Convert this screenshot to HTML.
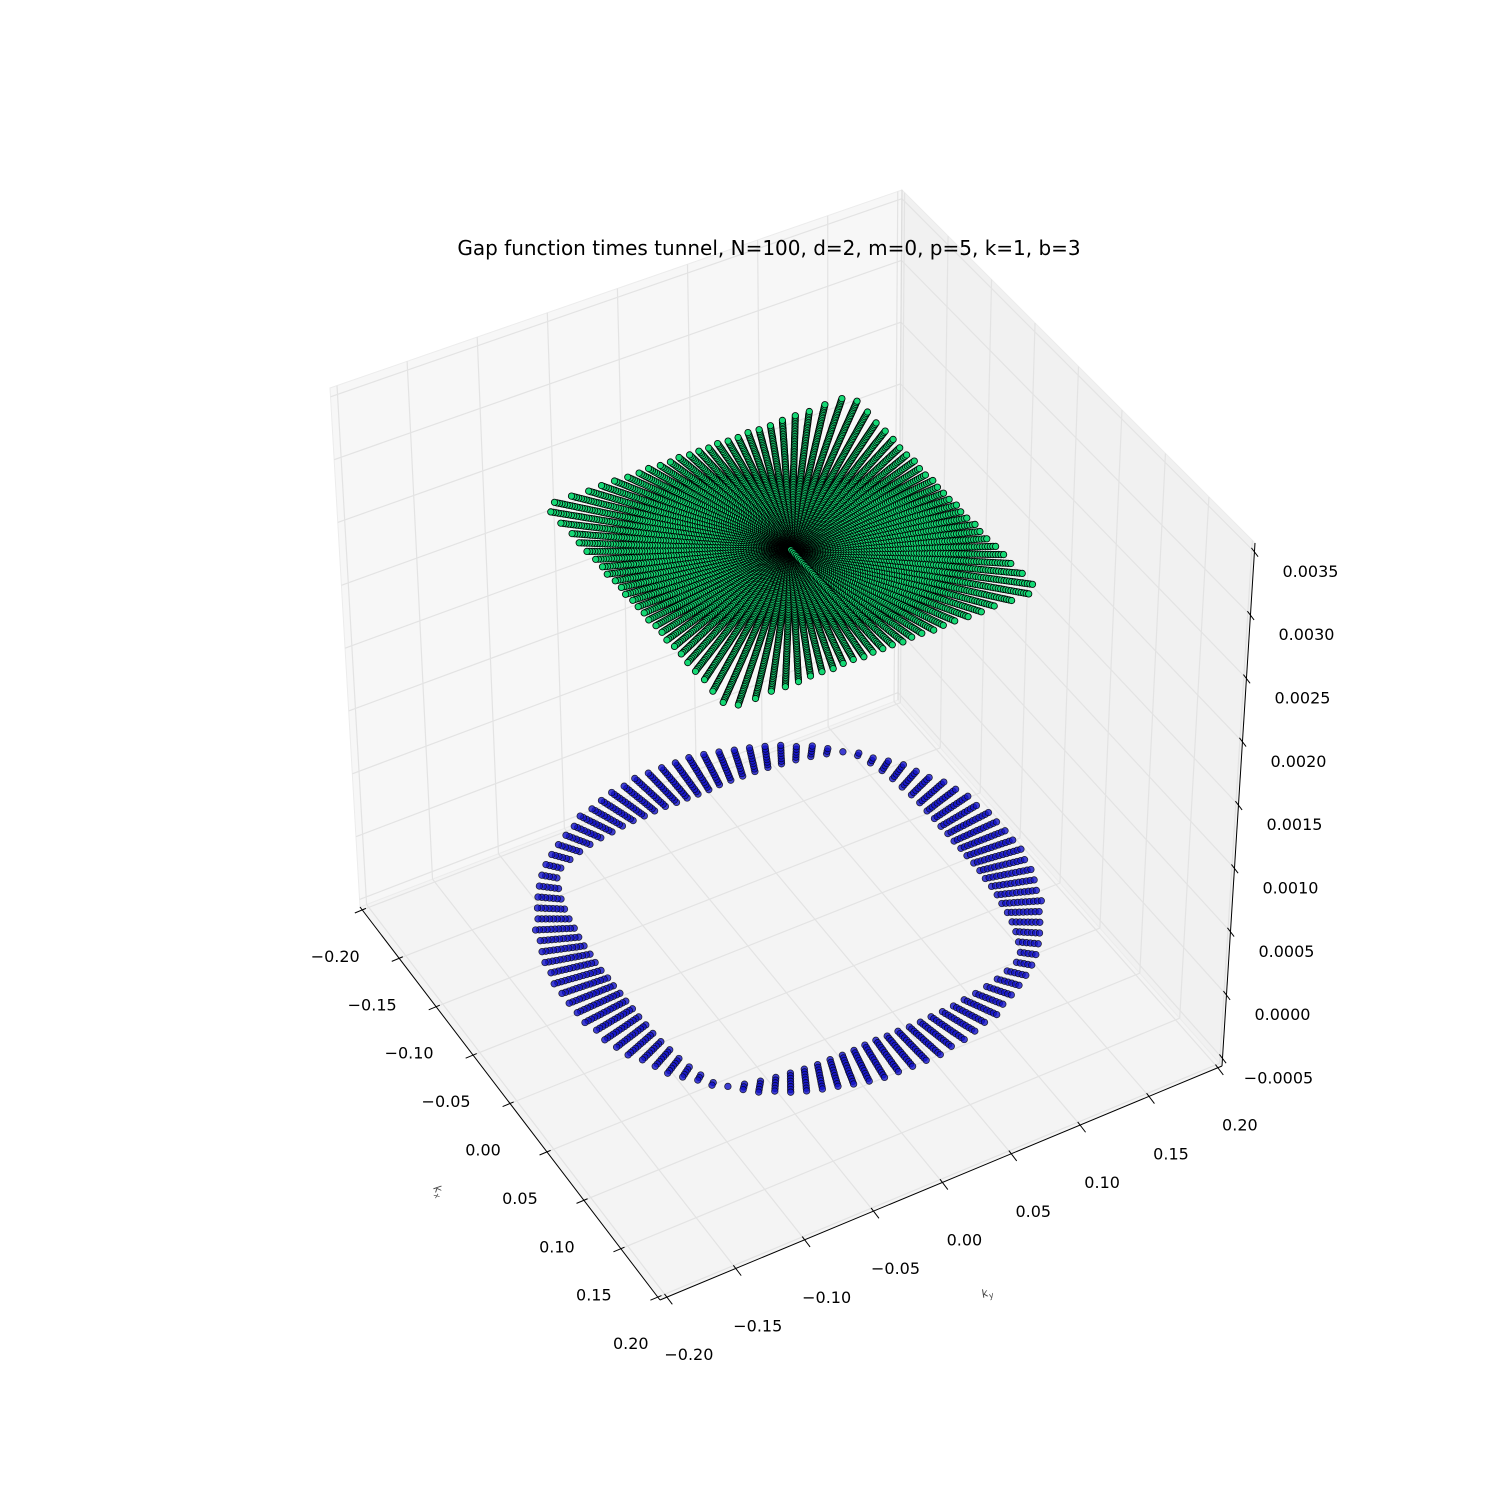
<!DOCTYPE html>
<html><head><meta charset="utf-8"><style>
html,body{margin:0;padding:0;background:#fff;}
svg{display:block;font-family:"DejaVu Sans","Liberation Sans",sans-serif;}
</style></head><body>
<svg id="chart" width="1500" height="1500" viewBox="0 0 1500 1500" xmlns="http://www.w3.org/2000/svg">
<rect width="1500" height="1500" fill="#fff"/>
<g id="panes"></g>
<g id="grid"></g>
<g id="axes"></g>
<g id="blue"></g>
<g id="green"></g>
<g id="labels" font-size="16" fill="#000"></g>
<text x="769" y="255" text-anchor="middle" font-size="20">Gap function times tunnel, N=100, d=2, m=0, p=5, k=1, b=3</text>
<text x="433" y="1188" font-size="11" font-style="italic" fill="#444" transform="rotate(60 433 1188)">k<tspan font-size="8" dy="3">x</tspan></text>
<text x="983" y="1298" font-size="11" font-style="italic" fill="#444" transform="rotate(-20 983 1298)">k<tspan font-size="8" dy="3">y</tspan></text>
</svg>
<script>
// ---- data ----
const xTicks = [-0.2, -0.15, -0.1, -0.05, 0, 0.05, 0.1, 0.15, 0.2];
const xTickLabels = ["\u22120.20","\u22120.15","\u22120.10","\u22120.05","0.00","0.05","0.10","0.15","0.20"];
const yTicks = [-0.2, -0.15, -0.1, -0.05, 0, 0.05, 0.1, 0.15, 0.2];
const yTickLabels = ["\u22120.20","\u22120.15","\u22120.10","\u22120.05","0.00","0.05","0.10","0.15","0.20"];
const zTicks = [-0.0005, 0, 0.0005, 0.001, 0.0015, 0.002, 0.0025, 0.003, 0.0035];
const zTickLabels = ["\u22120.0005","0.0000","0.0005","0.0010","0.0015","0.0020","0.0025","0.0030","0.0035"];
const xLim = [-0.203, 0.203];
const yLim = [-0.205, 0.203];
const zLim = [-0.00056, 0.00357];
const nAngles = [100];
const greenHalfWidth = [0.11];
const greenZ = [0.00295];
const greenStep = [0.0016];
const ringOuter = [0.162];
const ringZ = [0.00004];
const ringStep = [0.0025];
const ringLen = [
0.034,0.034,0.033,0.032,0.031,0.029,0.027,0.025,0.022,0.019,0.016,0.013,0.010,0.010,0.013,0.016,0.019,0.022,0.025,0.027,0.029,0.031,0.032,0.033,0.034,
0.034,0.034,0.033,0.032,0.030,0.028,0.025,0.022,0.019,0.015,0.011,0.007,0.003,0.002,0.006,0.010,0.014,0.018,0.021,0.024,0.027,0.029,0.031,0.033,0.034,
0.034,0.034,0.033,0.032,0.031,0.029,0.027,0.025,0.022,0.019,0.016,0.013,0.010,0.010,0.013,0.016,0.019,0.022,0.025,0.027,0.029,0.031,0.032,0.033,0.034,
0.034,0.034,0.033,0.032,0.030,0.028,0.025,0.022,0.019,0.015,0.011,0.007,0.003,0.002,0.006,0.010,0.014,0.018,0.021,0.024,0.027,0.029,0.031,0.033,0.034];

// ---- projection (trilinear box mapping) ----
const FA=[360,907], FB=[660,1300], FD=[1222,1066], FE=[898,700];
const TA=[330,388], TB=[674,768], TD=[1255,543], TE=[902,190];
function bil(P,Q,R,S,u,v){
  return [P[0]*(1-u)*(1-v)+Q[0]*u*(1-v)+R[0]*u*v+S[0]*(1-u)*v,
          P[1]*(1-u)*(1-v)+Q[1]*u*(1-v)+R[1]*u*v+S[1]*(1-u)*v];
}
function proj(x,y,z){
  const u=(x-xLim[0])/(xLim[1]-xLim[0]);
  const v=(y-yLim[0])/(yLim[1]-yLim[0]);
  const w=(z-zLim[0])/(zLim[1]-zLim[0]);
  const f=bil(FA,FB,FD,FE,u,v), t=bil(TA,TB,TD,TE,u,v);
  return [f[0]+(t[0]-f[0])*w, f[1]+(t[1]-f[1])*w];
}
const NS="http://www.w3.org/2000/svg";
function mk(tag,parent,attrs){const e=document.createElementNS(NS,tag);for(const k in attrs)e.setAttribute(k,attrs[k]);parent.appendChild(e);return e;}
const gP=document.getElementById('panes'),gG=document.getElementById('grid'),gA=document.getElementById('axes'),
gB=document.getElementById('blue'),gN=document.getElementById('green'),gL=document.getElementById('labels');
function poly(pts,fill,name){const e=mk('polygon',gP,{points:pts.map(p=>p.join(',')).join(' '),fill:fill,stroke:'#ececec','stroke-width':1});

}
const [x0,x1]=xLim,[y0,y1]=yLim,[z0,z1]=zLim;
poly([proj(x0,y0,z0),proj(x1,y0,z0),proj(x1,y1,z0),proj(x0,y1,z0)],'#f4f4f4','floor-pane');
poly([proj(x0,y0,z0),proj(x0,y1,z0),proj(x0,y1,z1),proj(x0,y0,z1)],'#f7f7f7','left-wall-pane');
poly([proj(x0,y1,z0),proj(x1,y1,z0),proj(x1,y1,z1),proj(x0,y1,z1)],'#f1f1f1','back-wall-pane');
function line(g,a,b,col,w,name){const e=mk('line',g,{x1:a[0],y1:a[1],x2:b[0],y2:b[1],stroke:col,'stroke-width':w});

return e;}
const GC='#e3e3e3';
xTicks.forEach(t=>{line(gG,proj(t,y0,z0),proj(t,y1,z0),GC,1.2,'floor-grid-x');line(gG,proj(t,y1,z0),proj(t,y1,z1),GC,1.2,'wall-grid-x');});
yTicks.forEach(t=>{line(gG,proj(x0,t,z0),proj(x1,t,z0),GC,1.2,'floor-grid-y');line(gG,proj(x0,t,z0),proj(x0,t,z1),GC,1.2,'wall-grid-y');});
zTicks.forEach(t=>{line(gG,proj(x0,y0,t),proj(x0,y1,t),GC,1.2,'wall-grid-z');line(gG,proj(x0,y1,t),proj(x1,y1,t),GC,1.2,'wall-grid-z');});
line(gG,proj(x0,y1,z0),proj(x0,y1,z1),'#dcdcdc',1.2,'back-edge');
line(gA,proj(x0,y0,z0),proj(x1,y0,z0),'#000',1,'x-axis-line');
line(gA,proj(x1,y0,z0),proj(x1,y1,z0),'#000',1,'y-axis-line');
line(gA,proj(x1,y1,z0),proj(x1,y1,z1),'#000',1,'z-axis-line');
const dY=[0.923,-0.386], dX=[0.605,0.797];
xTicks.forEach((t,i)=>{const p=proj(t,y0,z0);
 line(gA,[p[0]-8*dY[0],p[1]-8*dY[1]],[p[0]+4*dY[0],p[1]+4*dY[1]],'#000',1,'x-tick');
 const e=mk('text',gL,{x:p[0]-27,y:p[1]+52,'text-anchor':'middle'});e.textContent=xTickLabels[i];
 
 });
yTicks.forEach((t,i)=>{const p=proj(x1,t,z0);
 line(gA,[p[0]-4*dX[0],p[1]-4*dX[1]],[p[0]+9*dX[0],p[1]+9*dX[1]],'#000',1,'y-tick');
 const e=mk('text',gL,{x:p[0]+22,y:p[1]+63,'text-anchor':'middle'});e.textContent=yTickLabels[i];
 
 });
zTicks.forEach((t,i)=>{const p=proj(x1,y1,t);
 line(gA,[p[0]-5*dX[0],p[1]-5*dX[1]],[p[0]+6*dX[0],p[1]+6*dX[1]],'#000',1,'z-tick');
 const e=mk('text',gL,{x:p[0]+56,y:p[1]+25,'text-anchor':'middle'});e.textContent=zTickLabels[i];
 
 });

// ---- blue ring ----
const N=nAngles[0];
for(let i=0;i<N;i++){
  const a=2*Math.PI*i/N, c=Math.cos(a), s=Math.sin(a);
  const rO=ringOuter[0], rI=rO-ringLen[i];
  for(let r=rI;r<=rO+1e-9;r+=ringStep[0]){
    const p=proj(r*c,r*s,ringZ[0]);
    const e=mk('circle',gB,{cx:p[0].toFixed(1),cy:p[1].toFixed(1),r:3.3,fill:'#1010c8','fill-opacity':0.8,stroke:'#000','stroke-width':0.7,'stroke-opacity':0.8});
    
    
  }
}
// ---- green gap surface ----
const order=[];for(let i=1;i<N;i++)order.push(i);order.push(0);
order.forEach(i=>{
  const a=2*Math.PI*i/N, c=Math.cos(a), s=Math.sin(a);
  const rMax=greenHalfWidth[0]/Math.max(Math.abs(c),Math.abs(s));
  for(let r=0;r<=rMax+1e-9;r+=greenStep[0]){
    const p=proj(r*c,r*s,greenZ[0]);
    const e=mk('circle',gN,{cx:p[0].toFixed(1),cy:p[1].toFixed(1),r:3.2,fill:'#14d874',stroke:'#000','stroke-width':0.8});
    
    
  }
});
</script>
</body></html>
